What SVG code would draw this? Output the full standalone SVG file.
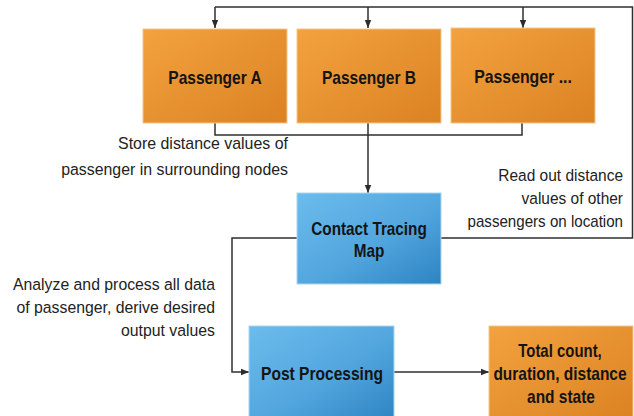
<svg xmlns="http://www.w3.org/2000/svg" width="634" height="416" viewBox="0 0 634 416">
  <defs>
    <linearGradient id="orange" x1="0" y1="0" x2="1" y2="1">
      <stop offset="0" stop-color="#f3a23f"/>
      <stop offset="1" stop-color="#db8222"/>
    </linearGradient>
    <linearGradient id="blue" x1="0" y1="0" x2="1" y2="1">
      <stop offset="0" stop-color="#6cbcec"/>
      <stop offset="0.55" stop-color="#52a6de"/>
      <stop offset="1" stop-color="#2d84c2"/>
    </linearGradient>
    <marker id="arrow" markerUnits="userSpaceOnUse" markerWidth="8" markerHeight="8" viewBox="0 0 8 8" refX="8" refY="4" orient="auto">
      <path d="M0,0.8 L8,4 L0,7.2 Z" fill="#2b2b2b"/>
    </marker>
    <style>
      .box-o { fill: url(#orange); stroke: #f6c58a; stroke-width: 1; }
      .box-b { fill: url(#blue); stroke: #a9d6f3; stroke-width: 1; }
      .title { font-family: "Liberation Sans", Arial, sans-serif; font-weight: bold; font-size: 18px; fill: #141414; text-anchor: middle; }
      .note { font-family: "Liberation Sans", Arial, sans-serif; font-size: 17px; fill: #222; text-anchor: end; }
      .wire { fill: none; stroke: #2f2f2f; stroke-width: 1.5; }
    </style>
  </defs>

  <!-- connectors -->
  <g id="connectors">
    <!-- feedback from the map back to every passenger -->
    <path class="wire" d="M441,238 H632.5 V7 H215"/>
    <path class="wire" d="M215,7 V28" marker-end="url(#arrow)"/>
    <path class="wire" d="M368,7 V28" marker-end="url(#arrow)"/>
    <path class="wire" d="M523,7 V28" marker-end="url(#arrow)"/>
    <!-- passengers collected into the map -->
    <path class="wire" d="M215,123 V135 H522 V123"/>
    <path class="wire" d="M368,123 V193" marker-end="url(#arrow)"/>
    <!-- map to post processing -->
    <path class="wire" d="M297,238 H232 V372 H249" marker-end="url(#arrow)"/>
    <!-- post processing to result -->
    <path class="wire" d="M394,372 H489" marker-end="url(#arrow)"/>
  </g>

  <!-- titles use a narrowed face: horizontal scale applied per line -->
  <g id="passenger-a">
    <rect class="box-o" x="143" y="29" width="144" height="94"/>
    <text class="title" transform="translate(215,84) scale(0.862,1)">Passenger A</text>
  </g>
  <g id="passenger-b">
    <rect class="box-o" x="297" y="29" width="144" height="94"/>
    <text class="title" transform="translate(369,84) scale(0.862,1)">Passenger B</text>
  </g>
  <g id="passenger-n">
    <rect class="box-o" x="451" y="28" width="144" height="95"/>
    <text class="title" transform="translate(523,83) scale(0.88,1)">Passenger ...</text>
  </g>

  <g id="contact-tracing-map">
    <rect class="box-b" x="297" y="193" width="144" height="91"/>
    <text class="title" transform="translate(369,235) scale(0.85,1)">Contact Tracing</text>
    <text class="title" transform="translate(369,257) scale(0.85,1)">Map</text>
  </g>

  <g id="post-processing">
    <rect class="box-b" x="249" y="326" width="145" height="95"/>
    <text class="title" transform="translate(322,380) scale(0.865,1)">Post Processing</text>
  </g>

  <g id="result">
    <rect class="box-o" x="489" y="326" width="144" height="95"/>
    <text class="title" transform="translate(560,357) scale(0.83,1)">Total count,</text>
    <text class="title" transform="translate(560,380) scale(0.86,1)">duration, distance</text>
    <text class="title" transform="translate(561,403) scale(0.86,1)">and state</text>
  </g>

  <g id="labels">
    <text class="note" transform="translate(288,149) scale(0.937,1)">Store distance values of</text>
    <text class="note" transform="translate(288,175) scale(0.935,1)">passenger in surrounding nodes</text>
    <text class="note" transform="translate(623,181) scale(0.91,1)">Read out distance</text>
    <text class="note" transform="translate(623,204) scale(0.91,1)">values of other</text>
    <text class="note" transform="translate(623,227) scale(0.89,1)">passengers on location</text>
    <text class="note" transform="translate(215,290) scale(0.93,1)">Analyze and process all data</text>
    <text class="note" transform="translate(215,313) scale(0.93,1)">of passenger, derive desired</text>
    <text class="note" transform="translate(215,336) scale(0.93,1)">output values</text>
  </g>
</svg>
